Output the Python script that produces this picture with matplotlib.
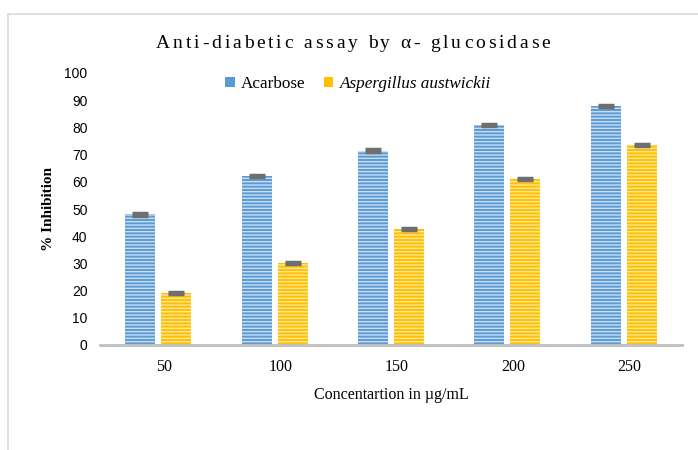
import numpy as np
import matplotlib
matplotlib.use('Agg')
import matplotlib.pyplot as plt
from matplotlib.patches import Rectangle

# data
concentrations = ['50', '100', '150', '200', '250']
acarbose = [48, 62, 71.5, 81, 88]
aspergillus = [19, 30, 42.5, 61, 73.5]
acarbose_err = [0.4, 0.4, 0.4, 0.4, 0.4]
aspergillus_err = [0.4, 0.4, 0.4, 0.4, 0.4]
yticks = list(range(0, 101, 10))
title = 'Anti-diabetic assay by α- glucosidase'

blue = '#5B9BD5'
yellow = '#FFC000'

fig = plt.figure(figsize=(6.98, 4.5), dpi=100)
ax = fig.add_axes([100/698, 1 - 345/450, 582/698, (345 - 73)/450])

# outer chart frame
fig.patches.append(Rectangle((8/698, -0.2), 1.2, 1 - 14/450 + 0.2, transform=fig.transFigure,
                             fill=False, edgecolor='#d9d9d9', lw=1.2))

x = np.arange(len(concentrations))
w = 0.258
gap = 0.05
xa = x - (w + gap) / 2
xb = x + (w + gap) / 2

plt.rcParams['hatch.linewidth'] = 1.0
ax.bar(xa, acarbose, w, color=blue, edgecolor='#c9ddf2', lw=0, hatch='-----', label='Acarbose')
ax.bar(xb, aspergillus, w, color=yellow, edgecolor='#ffe699', lw=0, hatch='-----',
       label='Aspergillus austwickii')
ax.errorbar(xa, acarbose, yerr=acarbose_err, fmt='none', ecolor='#6f6f6f', capsize=6, capthick=2.5, lw=1.5)
ax.errorbar(xb, aspergillus, yerr=aspergillus_err, fmt='none', ecolor='#6f6f6f', capsize=6, capthick=2.5, lw=1.5)

ax.set_xlim(-0.5, len(concentrations) - 0.5)
ax.set_ylim(0, 100)
ax.set_yticks(yticks)
ax.set_yticklabels([str(t) for t in yticks], family='Liberation Sans', fontsize=10)
ax.set_xticks(x + 0.05)
ax.set_xticklabels(concentrations, family='Liberation Serif', fontsize=11.5)
ax.tick_params(axis='both', length=0, pad=9)
ax.tick_params(axis='x', pad=10)

for s in ['top', 'right', 'left']:
    ax.spines[s].set_visible(False)
ax.spines['bottom'].set_color('#bfbfbf')
ax.spines['bottom'].set_linewidth(2)

ax.set_xlabel('Concentartion in µg/mL', family='Liberation Serif', fontsize=11.5, labelpad=9)
ax.set_ylabel('% Inhibition', family='Liberation Serif', fontsize=11, fontweight='bold', labelpad=7)

leg = ax.legend(loc='center', bbox_to_anchor=((358 - 100) / 582, (450 - 84 - 105) / (345 - 73)), ncol=2,
                frameon=False, handlelength=0.55, handleheight=0.55, columnspacing=1.1,
                handletextpad=0.35, prop={'family': 'Liberation Serif', 'size': 12.3})
for p in leg.get_patches():
    p.set_hatch(None)
leg.get_texts()[1].set_fontstyle('italic')

# title with wide letter spacing, like the original
renderer = fig.canvas.get_renderer()
fs = 14
spacing = 2.8  # px between letters
def text_w(s):
    t = fig.text(0, 0, s + '|', family='Liberation Serif', fontsize=fs)
    w1 = t.get_window_extent(renderer).width
    t.remove()
    t = fig.text(0, 0, '|', family='Liberation Serif', fontsize=fs)
    w2 = t.get_window_extent(renderer).width
    t.remove()
    return w1 - w2
total = text_w(title) + spacing * (len(title) - 1)
x0 = 353 - total / 2
for i, ch in enumerate(title):
    px = x0 + text_w(title[:i]) + spacing * i
    fig.text(px / 698, 1 - 44/450, ch, ha='left', va='center',
             family='Liberation Serif', fontsize=fs)

fig.savefig('out.png', dpi=100)
